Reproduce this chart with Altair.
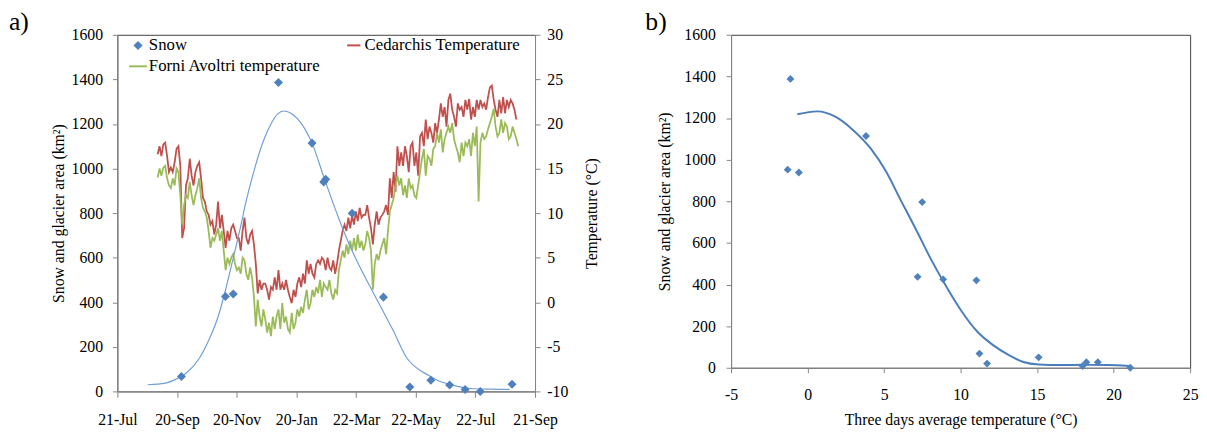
import json
import altair as alt
import pandas as pd

FONT = "Liberation Serif"

panel_labels = ["a)", "b)"]

# ---------------- Panel a ----------------
tick_days = [0, 61, 122, 183, 244, 305, 366, 427]
tick_labels = ["21-Jul", "20-Sep", "20-Nov", "20-Jan", "22-Mar", "22-May", "22-Jul", "21-Sep"]

snow_day = [65.5, 110.5, 118.5, 164.7, 199, 211, 213, 240, 272, 299, 320.5, 339.7, 355.5, 371, 403.5]
snow_area = [67, 426, 437, 1386, 1114, 940, 952, 799, 423, 20, 50, 29, 9, 0, 32]

curve_day = [31, 49, 60, 72, 84, 95, 103, 110, 118, 125, 132, 141, 149, 157, 164, 170, 180, 188,
             199, 212, 226, 238, 250, 259, 265, 282, 296, 311, 319, 327, 342, 361, 381, 401]
curve_area = [30, 37, 55, 88, 150, 245, 335, 445, 590, 720, 860, 1010, 1120, 1200, 1245, 1258, 1240, 1203,
              1114, 950, 780, 650, 540, 465, 415, 273, 150, 90, 70, 50, 29, 13, 10, 9]

temp_start_day = 41.2
temp_step_days = 1.93
cedarchis_temp = [
    16.6, 17.5, 16.4, 17.7, 17.9, 16.4, 14.6, 15.1, 14.6, 15.7,
    17.2, 17.5, 15.3, 7.2, 8.3, 13.1, 13.9, 16.1, 14.2, 13.1,
    14.6, 15.3, 15.7, 13.9, 11.7, 11.3, 10.2, 9.8, 8.7, 9.1,
    7.6, 8.7, 11.3, 8.3, 9.8, 8.0, 6.1, 8.0, 6.9, 8.3,
    8.7, 8.0, 7.2, 7.2, 5.8, 8.0, 9.5, 7.2, 6.5, 7.6,
    8.0, 6.5, 4.3, 1.0, 2.5, 1.4, 2.1, 2.1, 1.4, 0.3,
    1.7, 1.4, 2.8, 1.4, 3.6, 1.4, 2.1, 1.4, 2.5, 1.4,
    0.6, -0.1, 1.4, 0.6, 2.1, 2.8, 1.7, 3.2, 2.1, 4.7,
    3.2, 4.3, 3.2, 2.8, 4.3, 4.7, 4.3, 5.0, 4.7, 3.6,
    5.0, 3.9, 3.6, 4.7, 3.2, 4.3, 5.8, 6.9, 8.0, 8.7,
    8.0, 9.5, 8.3, 9.8, 8.7, 10.2, 9.1, 10.6, 9.5, 9.8,
    9.8, 10.9, 9.5, 8.3, 6.5, 8.7, 10.2, 8.7, 9.5, 9.8,
    10.2, 10.9, 9.8, 13.9, 11.7, 14.6, 12.4, 17.5, 15.3, 16.8,
    15.3, 17.5, 16.4, 14.6, 17.5, 17.9, 15.3, 16.8, 14.2, 18.6,
    19.0, 17.5, 20.5, 18.3, 19.7, 19.0, 17.9, 20.1, 19.0, 20.5,
    22.3, 20.8, 21.9, 19.7, 22.7, 23.4, 21.6, 20.8, 19.7, 22.3,
    21.6, 21.9, 20.8, 22.7, 21.6, 22.8, 20.5, 21.9, 20.8, 22.7,
    21.6, 22.7, 21.9, 22.3, 21.6, 23.0, 24.1, 24.3, 22.7, 21.6,
    20.8, 22.7, 21.2, 23.0, 21.2, 22.7, 21.9, 22.7, 22.3, 21.6,
    20.5,
]
forni_temp = [
    14.0, 15.0, 14.2, 15.1, 15.3, 13.9, 13.1, 12.8, 13.9, 13.1,
    15.0, 14.6, 12.0, 8.7, 10.9, 12.0, 11.7, 13.5, 12.0, 10.9,
    12.0, 12.8, 13.9, 11.7, 10.6, 10.2, 9.5, 8.0, 6.1, 7.2,
    6.9, 7.6, 8.3, 6.9, 8.0, 5.8, 3.6, 5.0, 4.3, 5.0,
    5.4, 4.3, 3.6, 3.9, 3.2, 5.0, 4.7, 3.2, 2.5, 3.9,
    2.8, 0.6, -2.7, 0.3, -1.6, -2.7, -0.8, -1.9, -3.4, -2.3,
    -3.8, -1.6, -3.0, -1.6, -0.8, -3.0, -0.1, -2.3, -1.6, -3.0,
    -3.4, -1.2, -3.0, -2.3, -0.8, -1.6, -0.5, -1.2, 0.3, 1.4,
    -0.8, -0.1, 1.4, 0.6, 1.7, 1.0, 2.5, 0.6, 2.1, 1.7,
    1.4, 2.5, 1.0, 0.3, 1.4, 1.0, 3.6, 4.7, 5.8, 5.0,
    6.5, 5.4, 6.9, 5.8, 7.2, 5.8, 7.6, 6.1, 6.9, 5.8,
    6.5, 8.0, 7.2, 5.8, 1.4, 4.3, 5.4, 4.7, 5.8, 6.5,
    7.2, 5.4, 8.0, 10.2, 10.9, 11.7, 13.1, 14.2, 13.1, 13.9,
    12.0, 13.1, 11.7, 13.9, 12.8, 13.1, 12.0, 11.7, 13.1, 14.6,
    16.1, 17.2, 14.2, 16.4, 16.1, 15.3, 17.2, 17.5, 19.0, 17.9,
    19.4, 16.8, 18.3, 19.0, 19.7, 19.0, 20.1, 18.3, 17.5, 16.8,
    15.7, 17.9, 16.4, 17.9, 17.5, 18.3, 16.4, 19.0, 17.5, 19.7,
    11.3, 17.9, 19.0, 18.3, 18.6, 19.4, 20.1, 20.8, 21.7, 19.7,
    18.6, 19.0, 20.5, 19.0, 20.1, 19.7, 18.3, 18.6, 19.7, 19.0,
    18.3, 17.5,
]

series_names = ["Snow", "Cedarchis Temperature", "Forni Avoltri temperature"]
series_colors = ["#4f81bd", "#c0504d", "#9bbb59"]
series_shapes = ["diamond", "stroke", "stroke"]
series_sizes = [40, 324, 324]

# ---------------- Panel b ----------------
b_temp = [-1.30, -1.12, -0.57, 3.82, 7.19, 7.49, 8.86, 11.03, 11.23, 11.73, 15.10, 17.97, 18.22, 18.97, 21.09]
b_area = [952, 1388, 938, 1114, 437, 796, 425, 420, 68, 20, 50, 8, 27, 27, 0]
b_fit_temp = [-0.67, 0.62, 1.87, 2.87, 4.12, 5.12, 6.11, 7.11, 8.11, 9.11, 10.11, 11.1, 12.1, 13.1,
              14.1, 15.1, 16.6, 18.1, 19.6, 21.0]
b_fit_area = [1218, 1232, 1204, 1149, 1054, 944, 802, 661, 515, 385, 267, 173, 110, 63, 28, 16, 13, 14, 13, 9]

# ---------------- data frames ----------------
snow_df = pd.DataFrame({"day": snow_day, "area": snow_area, "series": "Snow"})
curve_df = pd.DataFrame({"day": curve_day, "area": curve_area})
temp_df = pd.concat([
    pd.DataFrame({"day": [temp_start_day + i * temp_step_days for i in range(len(cedarchis_temp))],
                  "temp": cedarchis_temp, "series": "Cedarchis Temperature"}),
    pd.DataFrame({"day": [temp_start_day + i * temp_step_days for i in range(len(forni_temp))],
                  "temp": forni_temp, "series": "Forni Avoltri temperature"}),
], ignore_index=True)
b_df = pd.DataFrame({"t": b_temp, "area": b_area})
bfit_df = pd.DataFrame({"t": b_fit_temp, "area": b_fit_area})

NUM = "datum.value + ''"

legend = alt.Legend(
    title=None, orient="none", legendX=11, legendY=2, columns=2, direction="horizontal",
    columnPadding=22, rowPadding=3, labelFont=FONT, labelFontSize=17, labelColor="black",
    labelOffset=1, labelLimit=400, padding=0, symbolStrokeWidth=2, symbolOpacity=1,
)
color_enc = alt.Color("series:N", scale=alt.Scale(domain=series_names, range=series_colors), legend=legend)
stroke_enc = alt.Stroke("series:N", scale=alt.Scale(domain=series_names, range=series_colors), legend=legend)
shape_enc = alt.Shape("series:N", scale=alt.Scale(domain=series_names, range=series_shapes), legend=legend)
size_enc = alt.Size("series:N", scale=alt.Scale(domain=series_names, range=series_sizes), legend=legend)

x_a = alt.X("day:Q", scale=alt.Scale(domain=[0, 427], nice=False, zero=False),
            axis=alt.Axis(values=tick_days, title=None, tickSize=6, labelPadding=15,
                          labelFlush=False, labelOverlap=False,
                          labelExpr=f"{json.dumps(tick_labels)}[round(datum.value / 61)]"))
y_area = alt.Y("area:Q", scale=alt.Scale(domain=[0, 1600], nice=False),
               axis=alt.Axis(orient="left", values=list(range(0, 1601, 200)), labelExpr=NUM,
                             labelOverlap=False, labelFlush=False,
                             title="Snow and glacier area (km²)", tickSize=5,
                             labelPadding=10, titlePadding=5))
y_temp = alt.Y("temp:Q", scale=alt.Scale(domain=[-10, 30], nice=False),
               axis=alt.Axis(orient="right", values=list(range(-10, 31, 5)), labelExpr=NUM,
                             labelOverlap=False, labelFlush=False,
                             title="Temperature (°C)", tickSize=5, labelPadding=7,
                             titlePadding=32, titleAngle=270))

temps = alt.Chart(temp_df).mark_line(strokeWidth=1.8).encode(
    x=x_a, y=y_temp, color=color_enc, detail="series:N")
curve = alt.Chart(curve_df).mark_line(color="#6f9fd6", strokeWidth=1.2, interpolate="monotone").encode(
    x=x_a, y=y_area)
pts = alt.Chart(snow_df).mark_point(filled=True, opacity=1, strokeWidth=2).encode(
    x=x_a, y=y_area, color=color_enc, stroke=stroke_enc, shape=shape_enc, size=size_enc)
label_a = alt.Chart(pd.DataFrame({"label": [panel_labels[0]]})).mark_text(
    align="left", baseline="alphabetic", font=FONT, fontSize=26, color="black").encode(
    text="label:N", x=alt.value(-110), y=alt.value(-5))

panel_a = alt.layer(temps, alt.layer(curve, pts, label_a)).resolve_scale(y="independent").properties(
    width=424, height=362)

x_b = alt.X("t:Q", scale=alt.Scale(domain=[-5, 25], nice=False, zero=False),
            axis=alt.Axis(values=list(range(-5, 26, 5)), labelExpr=NUM,
                          labelFlush=False, labelOverlap=False,
                          title="Three days average temperature (°C)",
                          tickSize=5, labelPadding=14, titlePadding=10))
y_b = alt.Y("area:Q", scale=alt.Scale(domain=[0, 1600], nice=False),
            axis=alt.Axis(values=list(range(0, 1601, 200)), labelExpr=NUM,
                          labelFlush=False, labelOverlap=False,
                          title="Snow and glacier area (km²)",
                          tickSize=5, labelPadding=11, titlePadding=12))
b_line = alt.Chart(bfit_df).mark_line(color="#4a7ebb", strokeWidth=2, interpolate="monotone").encode(x=x_b, y=y_b)
b_pts = alt.Chart(b_df).mark_point(shape="diamond", filled=True, size=64, opacity=1,
                                    color="#4f81bd").encode(x=x_b, y=y_b)
label_b = alt.Chart(pd.DataFrame({"label": [panel_labels[1]]})).mark_text(
    align="left", baseline="alphabetic", font=FONT, fontSize=26, color="black").encode(
    text="label:N", x=alt.value(-87), y=alt.value(-5))
panel_b = alt.layer(b_line, b_pts, label_b).properties(width=466, height=338)

chart = alt.hconcat(panel_a, panel_b, spacing=45).resolve_scale(
    color="independent", shape="independent", stroke="independent", size="independent").resolve_legend(
    color="independent", shape="independent", stroke="independent", size="independent").properties(
    padding={"left": 0, "top": -3, "right": 0, "bottom": 0}
).configure_view(stroke="#404040", strokeWidth=1).configure_axis(
    labelFont=FONT, titleFont=FONT, labelFontSize=16, titleFontSize=16, titleFontWeight="normal",
    labelColor="black", titleColor="black", domainColor="#868686", tickColor="#868686", grid=False,
)

chart.save("out.html", embed_options={"renderer": "svg", "actions": False})
